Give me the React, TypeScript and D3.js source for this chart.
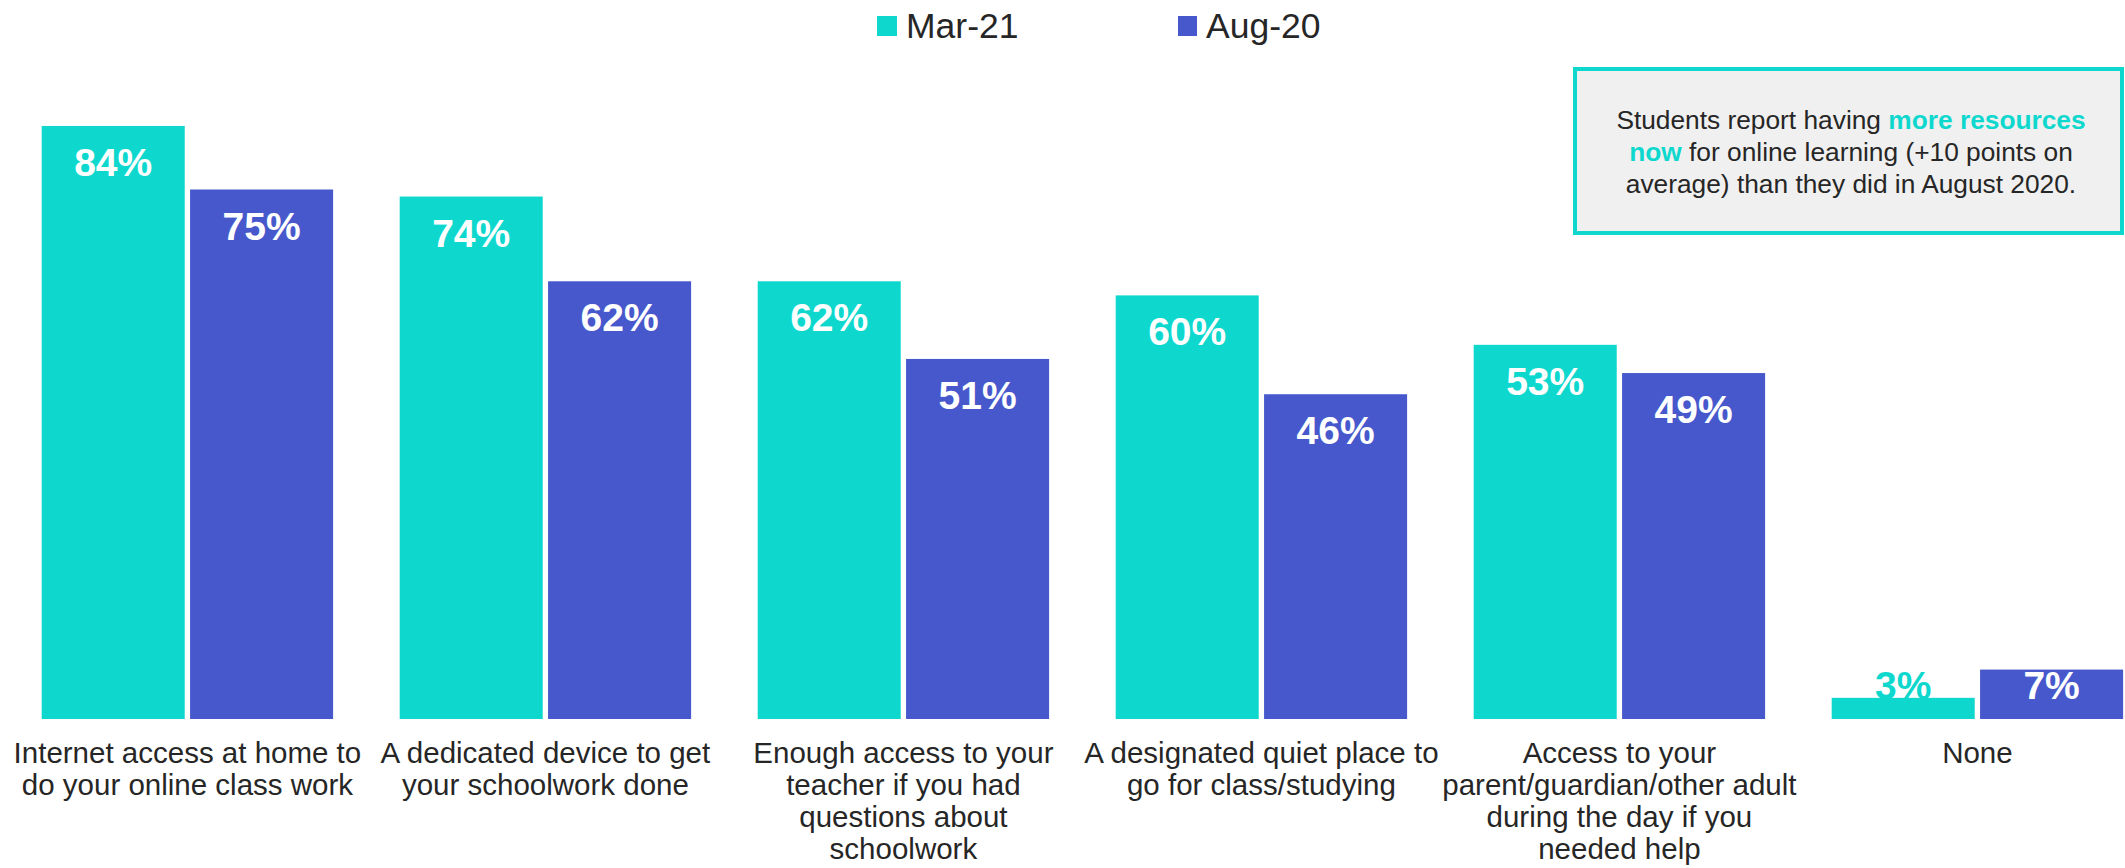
import React from "react";
import * as d3 from "d3";

const categories = [
  ["Internet access at home to", "do your online class work"],
  ["A dedicated device to get", "your schoolwork done"],
  ["Enough access to your", "teacher if you had", "questions about", "schoolwork"],
  ["A designated quiet place to", "go for class/studying"],
  ["Access to your", "parent/guardian/other adult", "during the day if you", "needed help"],
  ["None"],
];
const seriesNames = ["Mar-21", "Aug-20"];
const mar21 = [84, 74, 62, 60, 53, 3];
const aug20 = [75, 62, 51, 46, 49, 7];
const colors = ["#0ED8CE", "#4658CC"];

const W = 2125;
const H = 868;
const FONT = "'Liberation Sans', Arial, Helvetica, sans-serif";

export default function App() {
  const ids = categories.map((_, i) => String(i));
  const x = d3.scaleBand<string>().domain(ids).range([8.4, 8.4 + 6 * 358]).paddingInner(0.186).paddingOuter(0.093);
  const xi = d3.scaleBand<string>().domain(seriesNames).range([0, x.bandwidth()]).paddingInner(0.036);
  const y = d3.scaleLinear().domain([0, 100]).range([719, 13]);
  const series = [mar21, aug20];

  return (
    <svg width={W} height={H} style={{ position: "absolute", left: 0, top: 0, background: "#fff" }} fontFamily={FONT}>
      {/* legend */}
      <g>
        <rect x={877} y={16} width={20} height={20} fill={colors[0]} />
        <text x={906} y={38} fontSize={35.5} fill="#262626">{seriesNames[0]}</text>
        <rect x={1178} y={16} width={19} height={20} fill={colors[1]} />
        <text x={1206} y={38} fontSize={35.5} fill="#262626">{seriesNames[1]}</text>
      </g>

      {/* annotation */}
      <rect x={1575} y={69} width={547} height={164} fill="#F0F0F0" stroke="#0ED8CE" strokeWidth={4} />
      <text x={1851} fontSize={26.3} fill="#262626" textAnchor="middle">
        <tspan x={1851} y={129}>Students report having <tspan fill="#0ED8CE" fontWeight="bold">more resources</tspan></tspan>
        <tspan x={1851} y={161}><tspan fill="#0ED8CE" fontWeight="bold">now</tspan> for online learning (+10 points on</tspan>
        <tspan x={1851} y={193}>average) than they did in August 2020.</tspan>
      </text>

      {/* bars */}
      {ids.map((id, i) => (
        <g key={id} transform={`translate(${x(id)},0)`}>
          {seriesNames.map((s, j) => {
            const v = series[j][i];
            const bx = xi(s)!;
            const top = y(v);
            const ly = Math.min(top + 50, y(0) - 20);
            const small = v < 5;
            return (
              <g key={s}>
                <rect x={bx} y={top} width={xi.bandwidth()} height={y(0) - top} fill={colors[j]} />
                <text x={bx + xi.bandwidth() / 2} y={ly} textAnchor="middle" fontWeight="bold" fontSize={39} fill={small ? colors[j] : "#fff"}>
                  {v}%
                </text>
              </g>
            );
          })}
          <text fontSize={29.5} fill="#262626" textAnchor="middle">
            {categories[i].map((line, k) => (
              <tspan key={k} x={x.bandwidth() / 2} y={763 + k * 32}>{line}</tspan>
            ))}
          </text>
        </g>
      ))}
    </svg>
  );
}
